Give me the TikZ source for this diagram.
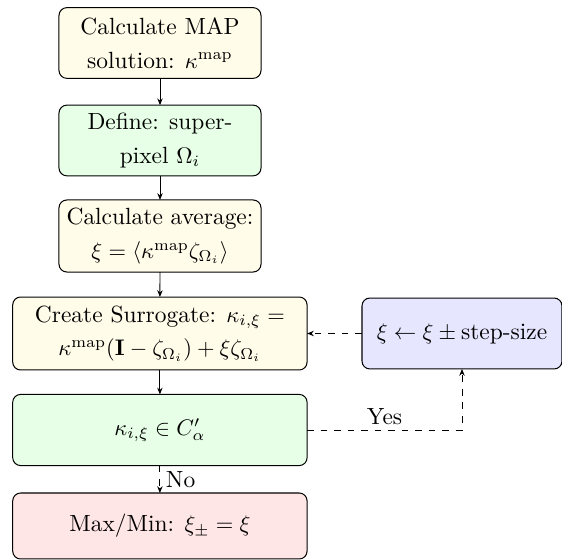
\documentclass[tikz,border=0pt]{standalone}
\usetikzlibrary{arrows.meta}
\definecolor{boxyellow}{HTML}{FFFCE9}
\definecolor{boxgreen}{HTML}{E6FFE6}
\definecolor{boxblue}{HTML}{E6E6FF}
\definecolor{boxred}{HTML}{FFE6E6}
\begin{document}
\begin{tikzpicture}[x=0.444pt,y=-0.444pt,
  every node/.style={font=\fontsize{10.4pt}{12.5pt}\selectfont},
  box/.style={draw, rounded corners=3.5pt, align=center, inner sep=0pt, outer sep=0pt,
    line width=0.45pt},
  mainbox/.style={box, minimum width=89.7pt, minimum height=31.4pt},
  widebox/.style={box, minimum width=130.7pt, minimum height=31.6pt},
  arr/.style={-{Stealth[length=3pt,width=2.4pt]}, line width=0.4pt},
  darr/.style={arr, dashed}]
\useasboundingbox (0,0) rectangle (562,560);
\node[mainbox, fill=boxyellow] (map) at (160,43) {Calculate MAP\\[2.5pt] solution: $\kappa^{\mathrm{map}}$};
\node[mainbox, fill=boxgreen] (def) at (160,140.5) {Define: super-\\[2.5pt] pixel $\Omega_i$};
\node[mainbox, fill=boxyellow, minimum height=32pt] (avg) at (160,236) {Calculate average:\\[2.5pt] $\xi=\langle\kappa^{\mathrm{map}}\zeta_{\Omega_i}\rangle$};
\node[widebox, fill=boxyellow, minimum height=32.4pt] (sur) at (159.9,333.5) {Create Surrogate: $\kappa_{i,\xi}=$\\[2.5pt] $\kappa^{\mathrm{map}}(\mathbf{I}-\zeta_{\Omega_i})+\xi\zeta_{\Omega_i}$};
\node[widebox, fill=boxgreen] (chk) at (159.9,430) {$\kappa_{i,\xi}\in C'_\alpha$};
\node[widebox, fill=boxred, minimum height=29.3pt] (res) at (159.9,526) {Max/Min: $\xi_\pm=\xi$};
\node[box, fill=boxblue, minimum width=88.8pt, minimum height=31.5pt] (step) at (462,333.5) {$\xi\leftarrow\xi\pm\mbox{step-size}$};
\draw[arr] (map) -- (def);
\draw[arr] (def) -- (avg);
\draw[arr] (avg) -- (sur);
\draw[arr] (sur) -- (chk);
\draw[darr] (chk) -- node[right, inner sep=2.5pt] {No} (res);
\draw[darr] (step) -- (sur);
\draw[darr] (chk.east) -| node[pos=0.25, above, inner sep=2pt] {Yes} (step.south);
\end{tikzpicture}
\end{document}
